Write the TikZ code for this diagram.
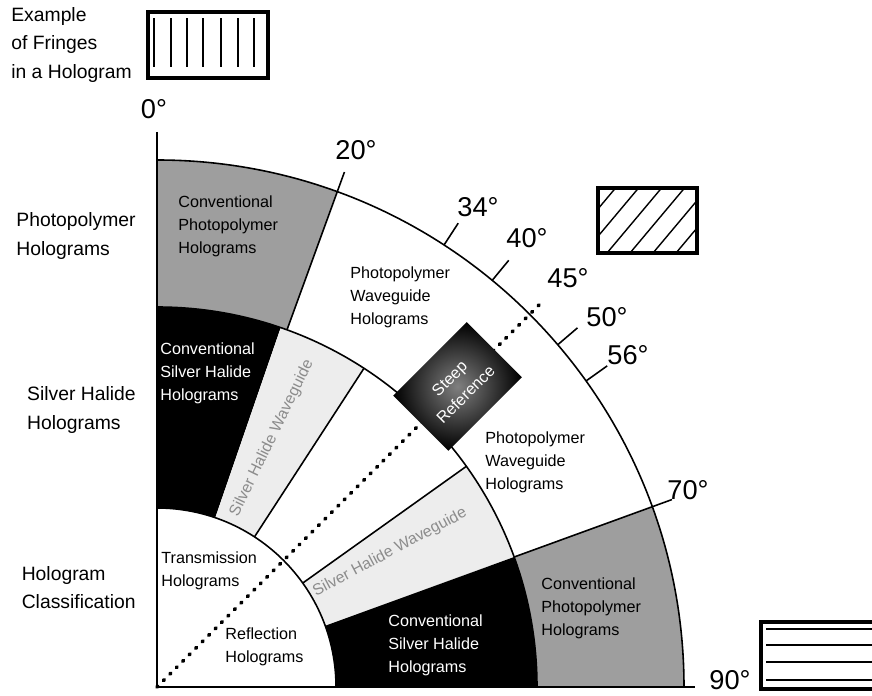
\documentclass[tikz,border=0pt]{standalone}
\usepackage{fontspec}
\setmainfont{Liberation Sans}
\usetikzlibrary{shapes.geometric}
\tikzstyle{ringline} = [draw=black, line width=0.9pt]
\tikzstyle{halftone} = [fill=black!38]
\tikzstyle{blackfill} = [fill=black]
\tikzstyle{speckle} = [fill=black!7]
\tikzstyle{angletick} = [line width=0.9pt]
\tikzstyle{dotline} = [line width=2.2pt, line cap=round, dash pattern=on 0.6pt off 4.6pt]
\tikzstyle{anglelabel} = [font=\fontsize{15.5}{18}\selectfont, inner sep=0pt]
\tikzstyle{zonelabel} = [font=\fontsize{9.2}{13}\selectfont, align=left, anchor=west, inner sep=0pt]
\tikzstyle{rowlabel} = [font=\fontsize{11}{16}\selectfont, align=left, anchor=east, inner sep=0pt]
\tikzstyle{wavetext} = [font=\fontsize{9}{10}\selectfont, text=black!45, inner sep=0pt]
\tikzstyle{steepbox} = [rectangle, minimum width=2.08cm, minimum height=1.56cm, inner color=black!50, outer color=black, text=white, align=center, font=\fontsize{9.2}{13}\selectfont]
\tikzstyle{fringebox} = [draw=black, line width=2pt]
\tikzstyle{fringeline} = [line width=0.8pt]

\begin{document}
\begin{tikzpicture}[x=0.02cm, y=0.02cm]
\useasboundingbox (0,0) rectangle (872,696);
\begin{scope}[shift={(157,9)}]
% outer ring
\fill[halftone] (90:380) arc[start angle=90, end angle=70, radius=380] -- (70:527) arc[start angle=70, end angle=90, radius=527] -- cycle;
\fill[halftone] (20:380) arc[start angle=20, end angle=0, radius=380] -- (0:527) arc[start angle=0, end angle=20, radius=527] -- cycle;
% middle ring
\fill[blackfill] (90:179) arc[start angle=90, end angle=71, radius=179] -- (71:380) arc[start angle=71, end angle=90, radius=380] -- cycle;
\fill[speckle] (71:179) arc[start angle=71, end angle=57, radius=179] -- (57:380) arc[start angle=57, end angle=71, radius=380] -- cycle;
\fill[speckle] (35.5:179) arc[start angle=35.5, end angle=20, radius=179] -- (20:380) arc[start angle=20, end angle=35.5, radius=380] -- cycle;
\fill[blackfill] (20:179) arc[start angle=20, end angle=0, radius=179] -- (0:380) arc[start angle=0, end angle=20, radius=380] -- cycle;
% axes and arcs
\draw[ringline] (90:555) -- (0,0) -- (0:538);
\draw[ringline] (90:527) arc[start angle=90, end angle=0, radius=527];
\draw[ringline] (90:380) arc[start angle=90, end angle=0, radius=380];
\draw[ringline] (90:179) arc[start angle=90, end angle=0, radius=179];
\draw[ringline] (70:380) -- (70:548);
\draw[ringline] (20:380) -- (20:548);
\draw[ringline] (57:179) -- (57:380);
\draw[ringline] (35.5:179) -- (35.5:380);
% ticks
\foreach \a in {57,50.5,40.5,35.5}
  \draw[angletick] (\a:527) -- (\a:553);
\draw[dotline] (0,0) -- (45:548);
\node (steep) [steepbox, rotate=45] at (45:425) {Steep\\Reference};
\node (shw1) [wavetext, rotate=64] at (65.2:274) {Silver Halide Waveguide};
\node (shw2) [wavetext, rotate=28] at (30:269) {Silver Halide Waveguide};
\end{scope}
% angle labels
\node (a0) [anglelabel] at (154,587) {0°};
\node (a20) [anglelabel] at (356,546) {20°};
\node (a34) [anglelabel] at (478,489) {34°};
\node (a40) [anglelabel] at (527,458) {40°};
\node (a45) [anglelabel] at (568,418) {45°};
\node (a50) [anglelabel] at (607,379) {50°};
\node (a56) [anglelabel] at (628,341) {56°};
\node (a70) [anglelabel] at (688,206) {70°};
\node (a90) [anglelabel] at (730,16) {90°};
% zone labels
\node (cph1) [zonelabel] at (178,470) {Conventional\\Photopolymer\\Holograms};
\node (pwh1) [zonelabel] at (350,399) {Photopolymer\\Waveguide\\Holograms};
\node (csh1) [zonelabel, text=white] at (160,323) {Conventional\\Silver Halide\\Holograms};
\node (pwh2) [zonelabel] at (485,234) {Photopolymer\\Waveguide\\Holograms};
\node (trans) [zonelabel] at (161,125) {Transmission\\Holograms};
\node (refl) [zonelabel] at (225,49) {Reflection\\Holograms};
\node (csh2) [zonelabel, text=white] at (388,51) {Conventional\\Silver Halide\\Holograms};
\node (cph2) [zonelabel] at (541,88) {Conventional\\Photopolymer\\Holograms};
% row labels
\node (rowpp) [rowlabel] at (136,460) {Photopolymer\\Holograms};
\node (rowsh) [rowlabel] at (136,286) {Silver Halide\\Holograms};
\node (rowhc) [rowlabel] at (136,108) {Hologram\\Classification};
\node (example) [rowlabel, anchor=west] at (11,651) {Example\\of Fringes\\in a Hologram};
% fringe examples
\draw[fringebox] (148,618) rectangle (268,684);
\foreach \x in {154,171,187,203,221,238,254}
  \draw[fringeline] (\x,629) -- (\x,678);
\begin{scope}
\clip (598,443) rectangle (697,508);
\foreach \x in {515,538,...,700}
  \draw[fringeline] (\x,443) -- ++(50:110);
\end{scope}
\draw[fringebox] (598,443) rectangle (697,508);
\draw[fringebox] (761,7) rectangle (890,74);
\foreach \y in {67,51,34,16}
  \draw[fringeline] (766,\y) -- (880,\y);
\end{tikzpicture}
\end{document}
